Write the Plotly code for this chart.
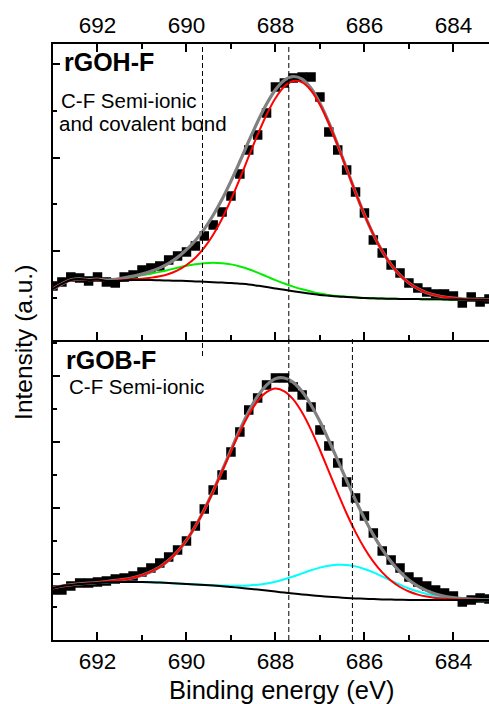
import plotly.graph_objects as go

# Binding energy grid (eV)
energy = [693.0, 692.8, 692.6, 692.4, 692.2, 692.0, 691.8, 691.6, 691.4, 691.2,
          691.0, 690.8, 690.6, 690.4, 690.2, 690.0, 689.8, 689.6, 689.4, 689.2,
          689.0, 688.8, 688.6, 688.4, 688.2, 688.0, 687.8, 687.6, 687.4, 687.2,
          687.0, 686.8, 686.6, 686.4, 686.2, 686.0, 685.8, 685.6, 685.4, 685.2,
          685.0, 684.8, 684.6, 684.4, 684.2, 684.0, 683.8, 683.6, 683.4, 683.2]

# rGOH-F (top panel)
top_data = [53, 57, 62, 61, 58, 62, 57, 56, 62, 64,
            69, 71, 73, 79, 83, 87, 93, 103, 114, 127,
            143, 165, 189, 204, 226, 252, 256, 261, 262, 262,
            242, 207, 189, 169, 147, 126, 99, 86, 74, 66,
            56, 51, 47, 45, 45, 43, 36, 42, 37, 40]
top_bg = [50, 55, 59, 60, 59, 59.5, 58, 58, 58.5, 59,
          59, 59, 58.7, 58.5, 58.2, 58, 57.6, 57.2, 56.8, 56.4,
          56, 55.3, 54.5, 53.3, 52, 50.5, 49.2, 47.8, 46.5, 45.2,
          44, 43.2, 42.5, 42, 41.5, 41, 40.7, 40.4, 40.2, 40.1,
          40, 39.9, 39.8, 39.7, 39.6, 39.5, 39.4, 39.3, 39.3, 39.2]
top_red = [50, 55, 59, 60, 59, 59.5, 58.1, 58.2, 58.9, 59.7,
           60.3, 61.3, 62.7, 65, 68.6, 74, 81.3, 91.3, 104.3, 120.3,
           139.3, 160.3, 182.5, 204.3, 224.3, 240.8, 252.5, 257.9, 256.6, 248.5,
           234.3, 215.5, 193.5, 170, 146.5, 124.3, 104.6, 87.9, 74.3, 63.8,
           56, 50.3, 46.3, 43.7, 41.9, 40.8, 40.1, 39.7, 39.5, 39.3]
top_green = [50, 55, 59.1, 60.2, 59.3, 60, 58.9, 59.4, 60.7, 62.2,
             63.6, 65.3, 67.1, 69.1, 71.2, 73.3, 74.8, 75.8, 76.2, 75.8,
             74.6, 72.5, 69.8, 66.3, 62.6, 58.9, 55.5, 52.4, 49.7, 47.4,
             45.4, 44.1, 43, 42.3, 41.7, 41.1, 40.7, 40.4, 40.2, 40.1,
             40, 39.9, 39.8, 39.7, 39.6, 39.5, 39.4, 39.3, 39.3, 39.2]
top_env = [50, 55, 59.1, 60.2, 59.3, 60, 59, 59.6, 61.1, 62.9,
           64.9, 67.6, 71.1, 75.6, 81.6, 89.3, 98.5, 109.9, 123.7, 139.7,
           157.9, 177.5, 197.8, 217.3, 234.9, 249.2, 258.8, 262.5, 259.8, 250.7,
           235.7, 216.4, 194, 170.3, 146.7, 124.4, 104.6, 87.9, 74.3, 63.8,
           56, 50.3, 46.3, 43.7, 41.9, 40.8, 40.1, 39.7, 39.5, 39.3]

# rGOB-F (bottom panel)
bot_data = [50, 50, 54, 57, 57, 58, 59, 61, 62, 64,
            68, 72, 77, 83, 90, 99, 114, 131, 150, 165,
            188, 208, 230, 242, 255, 262, 262, 253, 245, 233,
            210, 194, 177, 158, 142, 124, 107, 89, 80, 72,
            63, 58, 54, 50, 47, 44, 38, 40, 42, 41]
bot_bg = [52, 54, 55, 56, 56.5, 57, 57.5, 58, 58, 58,
          58, 57.8, 57.4, 57, 56.5, 56, 55.5, 55, 54.4, 53.8,
          53, 52.2, 51.3, 50.4, 49.4, 48.4, 47.4, 46.5, 45.6, 44.8,
          44, 43.3, 42.7, 42.1, 41.6, 41.2, 40.9, 40.6, 40.4, 40.2,
          40, 40, 40, 40, 40, 40, 40, 40, 40, 40]
bot_red = [52, 54, 55.1, 56.1, 56.8, 57.5, 58.4, 59.6, 60.6, 62.3,
           64.8, 68.3, 73, 79.7, 88.5, 99.7, 113.7, 130.1, 148.6, 168.5,
           188.7, 208.1, 225.3, 238.9, 247.8, 251.4, 248.7, 240.6, 227.4, 210.1,
           190, 168.5, 147, 126.5, 107.9, 91.8, 78.4, 67.6, 59.3, 53,
           48.5, 45.4, 43.4, 42, 41.2, 40.7, 40.4, 40.2, 40.1, 40.05]
bot_cyan = [52, 54, 55, 56, 56.5, 57, 57.5, 58, 58, 58,
            58, 57.8, 57.4, 57, 56.5, 56.05, 55.6, 55.2, 54.8, 54.55,
            54.3, 54.3, 54.6, 55.3, 56.5, 58.3, 60.7, 63.5, 66.6, 69.7,
            72.4, 74.3, 75.3, 75.1, 73.6, 71, 67.6, 63.6, 59.4, 55.3,
            51.5, 48.5, 46, 44, 42.6, 41.6, 41, 40.6, 40.3, 40.2]
bot_env = [52, 54, 55.1, 56.1, 56.8, 57.5, 58.4, 59.6, 60.6, 62.3,
           64.8, 68.3, 73, 79.7, 88.5, 99.75, 113.8, 130.3, 149, 169.3,
           190, 210.2, 228.6, 243.8, 254.9, 261.3, 262, 257.6, 248.4, 235,
           218.4, 199.5, 179.6, 159.5, 139.9, 121.6, 105.1, 90.6, 78.3, 68.1,
           60, 53.9, 49.4, 46, 43.8, 42.3, 41.4, 40.8, 40.4, 40.25]

top_dashes = [689.64, 687.7]
bot_dashes = [687.7, 686.27]

x_ticks = [692, 690, 688, 686, 684]
x_ticktext = ["692", "690", "688", "686", "684"]

FONT = "Liberation Sans, Arial, sans-serif"
SPLIT = 0.5034

fig = go.Figure()


def add_panel(data, bg, comps, ya):
    xa = "x2" if ya == "y2" else "x"
    fig.add_trace(go.Scatter(x=energy, y=data, mode="markers", xaxis=xa, yaxis=ya,
                             marker=dict(symbol="square", size=9.5, color="black", line=dict(width=0)),
                             showlegend=False))
    for vals, col, w in comps:
        fig.add_trace(go.Scatter(x=energy, y=vals, mode="lines", xaxis=xa, yaxis=ya,
                                 line=dict(color=col, width=w, shape="spline"), showlegend=False))
    fig.add_trace(go.Scatter(x=energy, y=bg, mode="lines", xaxis=xa, yaxis=ya,
                             line=dict(color="black", width=2, shape="spline"), showlegend=False))


add_panel(top_data, top_bg, [(top_green, "#00ee00", 2), (top_env, "#808080", 3.2), (top_red, "#ff0000", 2)], "y2")
add_panel(bot_data, bot_bg, [(bot_cyan, "#00ffff", 2), (bot_env, "#808080", 3.2), (bot_red, "#ff0000", 2)], "y")

axis_common = dict(range=[693, 683.2], tickmode="array", tickvals=x_ticks, ticktext=x_ticktext,
                   ticks="inside", ticklen=8, tickwidth=1.5, tickcolor="black",
                   showline=True, linewidth=1.5, linecolor="black", showgrid=False, zeroline=False,
                   tickfont=dict(family=FONT, size=22.5, color="black"),
                   minor=dict(tickmode="linear", tick0=683, dtick=1, ticks="inside", ticklen=5,
                              tickwidth=1.5, tickcolor="black", showgrid=False))

fig.update_layout(
    width=489, height=704,
    margin=dict(l=53, r=0, t=44, b=64),
    paper_bgcolor="white", plot_bgcolor="white",
    font=dict(family=FONT, color="black"),
    xaxis=dict(axis_common, anchor="y", side="bottom", mirror=False),
    xaxis2=dict(axis_common, anchor="y2", side="top", mirror="ticks", matches="x"),
    yaxis=dict(domain=[0, SPLIT], range=[0, 300], showticklabels=False, ticks="inside",
               tick0=0, dtick=66, ticklen=7, tickwidth=1.5, tickcolor="black",
               minor=dict(dtick=33, tick0=0, ticks="inside", ticklen=4, tickwidth=1.5, tickcolor="black"),
               showline=True, linewidth=1.5, linecolor="black", showgrid=False, zeroline=False),
    yaxis2=dict(domain=[SPLIT, 1], range=[-1, 295], showticklabels=False, ticks="inside",
                tick0=88, dtick=93.4, ticklen=7, tickwidth=1.5, tickcolor="black",
                minor=dict(dtick=46.7, tick0=41.3, ticks="inside", ticklen=4, tickwidth=1.5, tickcolor="black"),
                showline=True, linewidth=1.5, linecolor="black", showgrid=False, zeroline=False),
)

shapes = []
for xv in top_dashes:
    y0 = 0.4765 if xv == top_dashes[0] else SPLIT
    shapes.append(dict(type="line", xref="x", yref="paper", x0=xv, x1=xv, y0=y0, y1=1,
                       line=dict(color="black", width=1, dash="5px,3px")))
for xv in bot_dashes:
    shapes.append(dict(type="line", xref="x", yref="paper", x0=xv, x1=xv, y0=0, y1=SPLIT + 0.002,
                       line=dict(color="black", width=1, dash="5px,3px")))
fig.update_layout(shapes=shapes)

ann = [
    dict(text="<b>rGOH-F</b>", x=0.021, y=0.970, size=25),
    dict(text="C-F Semi-ionic", x=0.014, y=0.906, size=20.5),
    dict(text="and covalent bond", x=0.010, y=0.866, size=20.5),
    dict(text="<b>rGOB-F</b>", x=0.025, y=0.470, size=25),
    dict(text="C-F Semi-ionic", x=0.032, y=0.425, size=20.5),
]
annotations = [dict(text=a["text"], x=a["x"], y=a["y"], xref="paper", yref="paper",
                    xanchor="left", yanchor="middle", showarrow=False,
                    font=dict(family=FONT, size=a["size"], color="black")) for a in ann]
annotations.append(dict(text="Binding energy (eV)", x=(281 - 53) / 436, y=-0.084, xref="paper", yref="paper",
                        xanchor="center", yanchor="middle", showarrow=False,
                        font=dict(family=FONT, size=25.5, color="black")))
annotations.append(dict(text="Intensity (a.u.)", x=-0.069, y=0.500, xref="paper", yref="paper",
                        xanchor="center", yanchor="middle", showarrow=False, textangle=-90,
                        font=dict(family=FONT, size=24.5, color="black")))
fig.update_layout(annotations=annotations)

fig.write_html("out.html")
